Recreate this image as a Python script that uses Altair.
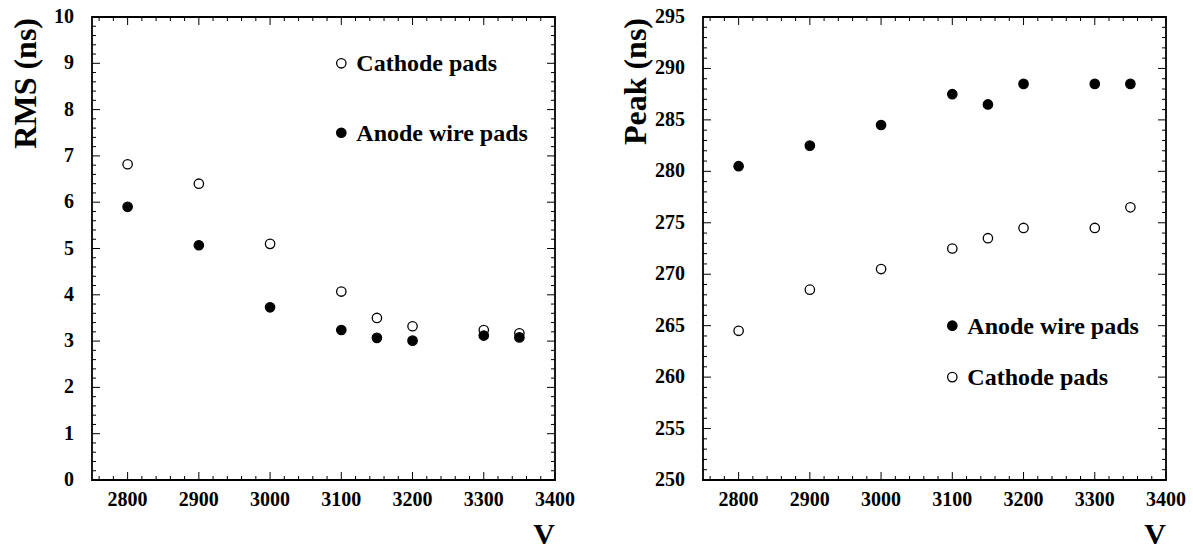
import altair as alt
import pandas as pd

# ---- data ----
voltage = [2800, 2900, 3000, 3100, 3150, 3200, 3300, 3350]
rms_cathode = [6.82, 6.40, 5.10, 4.07, 3.50, 3.32, 3.24, 3.17]
rms_anode = [5.90, 5.07, 3.73, 3.24, 3.07, 3.01, 3.12, 3.08]
peak_anode = [280.5, 282.5, 284.5, 287.5, 286.5, 288.5, 288.5, 288.5]
peak_cathode = [264.5, 268.5, 270.5, 272.5, 273.5, 274.5, 274.5, 276.5]

series_names = ["Cathode pads", "Anode wire pads"]

rms_legend_label = ["Cathode pads", "Anode wire pads"]
rms_legend_x = [3100, 3100]
rms_legend_y = [9.0, 7.5]
peak_legend_label = ["Anode wire pads", "Cathode pads"]
peak_legend_x = [3100, 3100]
peak_legend_y = [265, 260]

# tick positions (major ticks are labelled, minor ticks are the short ones)
x_major = [2800, 2900, 3000, 3100, 3200, 3300, 3400]
x_minor = [v for v in range(2760, 3401, 20) if v % 100 != 0]
rms_major = list(range(0, 11))
rms_minor = [round(i * 0.2, 1) for i in range(0, 51) if i % 5 != 0]
peak_major = list(range(250, 296, 5))
peak_minor = [v for v in range(250, 296) if v % 5 != 0]

x_title = "V"
rms_title = "RMS (ns)"
peak_title = "Peak (ns)"

W, H = 463, 463
FONT = "Liberation Serif"
MAJOR_LEN, MINOR_LEN = 8, 4


def long_df(a, b):
    rows = []
    for v, c in zip(voltage, a):
        rows.append({"V": v, "val": c, "series": "Cathode pads"})
    for v, c in zip(voltage, b):
        rows.append({"V": v, "val": c, "series": "Anode wire pads"})
    return pd.DataFrame(rows)


def legend_df(xs, ys, labels):
    return pd.DataFrame({"V": xs, "val": ys, "series": labels})


def panel(df, ldf, y_title, y_domain, y_major, y_minor, title_x):
    xscale = alt.Scale(domain=[2750, 3400], nice=False, zero=False)
    yscale = alt.Scale(domain=y_domain, nice=False, zero=False)
    fscale = alt.Scale(domain=series_names, range=["white", "black"])

    X = alt.X("V:Q", scale=xscale, axis=None)
    Y = alt.Y("val:Q", scale=yscale, axis=None)
    F = alt.Fill("series:N", scale=fscale, legend=None)

    pt = dict(shape="circle", filled=True, size=88, stroke="black", strokeWidth=1.3, opacity=1)

    points = alt.Chart(df).mark_point(**pt).encode(x=X, y=Y, fill=F)
    lpts = alt.Chart(ldf).mark_point(**pt).encode(x=X, y=Y, fill=F)
    ltxt = alt.Chart(ldf).mark_text(align="left", baseline="middle", dx=15, dy=1,
                                    font=FONT, fontSize=24, fontWeight="bold",
                                    color="black").encode(x=X, y=Y, text="series:N")

    layers = [points, lpts, ltxt]

    # inward ticks along the bottom and top edges (x scale)
    for vals, ln in ((x_major, MAJOR_LEN), (x_minor, MINOR_LEN)):
        tdf = pd.DataFrame({"V": vals})
        for y0, y1 in ((H, H - ln), (0, ln)):
            layers.append(
                alt.Chart(tdf).mark_rule(color="black", strokeWidth=1).encode(
                    x=X, y=alt.value(y0), y2=alt.value(y1)))
    # inward ticks along the left and right edges (y scale)
    for vals, ln in ((y_major, MAJOR_LEN), (y_minor, MINOR_LEN)):
        tdf = pd.DataFrame({"val": vals})
        for x0, x1 in ((0, ln), (W, W - ln)):
            layers.append(
                alt.Chart(tdf).mark_rule(color="black", strokeWidth=1).encode(
                    y=Y, x=alt.value(x0), x2=alt.value(x1)))

    # tick labels
    xl = pd.DataFrame({"V": x_major, "lab": [str(v) for v in x_major]})
    layers.append(alt.Chart(xl).mark_text(align="center", baseline="top", font=FONT,
                                          fontSize=20, fontWeight="bold", color="black").encode(
        x=X, y=alt.value(H + 10), text="lab:N"))
    yl = pd.DataFrame({"val": y_major, "lab": [str(v) for v in y_major]})
    layers.append(alt.Chart(yl).mark_text(align="right", baseline="middle", font=FONT,
                                          fontSize=20, fontWeight="bold", color="black").encode(
        y=Y, x=alt.value(-18), text="lab:N"))

    # axis titles
    layers.append(alt.Chart(pd.DataFrame({"t": [x_title]})).mark_text(
        align="right", baseline="alphabetic", font=FONT, fontSize=30, fontWeight="bold",
        color="black").encode(x=alt.value(W), y=alt.value(H + 64), text="t:N"))
    layers.append(alt.Chart(pd.DataFrame({"t": [y_title]})).mark_text(
        align="right", baseline="alphabetic", angle=270, font=FONT, fontSize=32,
        fontWeight="bold", color="black").encode(
        x=alt.value(title_x), y=alt.value(1), text="t:N"))

    return alt.layer(*layers).properties(width=W, height=H)


left = panel(long_df(rms_cathode, rms_anode),
             legend_df(rms_legend_x, rms_legend_y, rms_legend_label),
             rms_title, [0, 10], rms_major, rms_minor, -56)
right = panel(long_df(peak_cathode, peak_anode),
              legend_df(peak_legend_x, peak_legend_y, peak_legend_label),
              peak_title, [250, 295], peak_major, peak_minor, -57)

chart = alt.hconcat(left, right, spacing=43).properties(
    padding={"left": 9, "top": 6, "right": 0, "bottom": 0},
    background="white",
).configure_view(stroke="black", strokeWidth=1.8)

chart.save("out.html", embed_options={"renderer": "svg", "actions": False})
